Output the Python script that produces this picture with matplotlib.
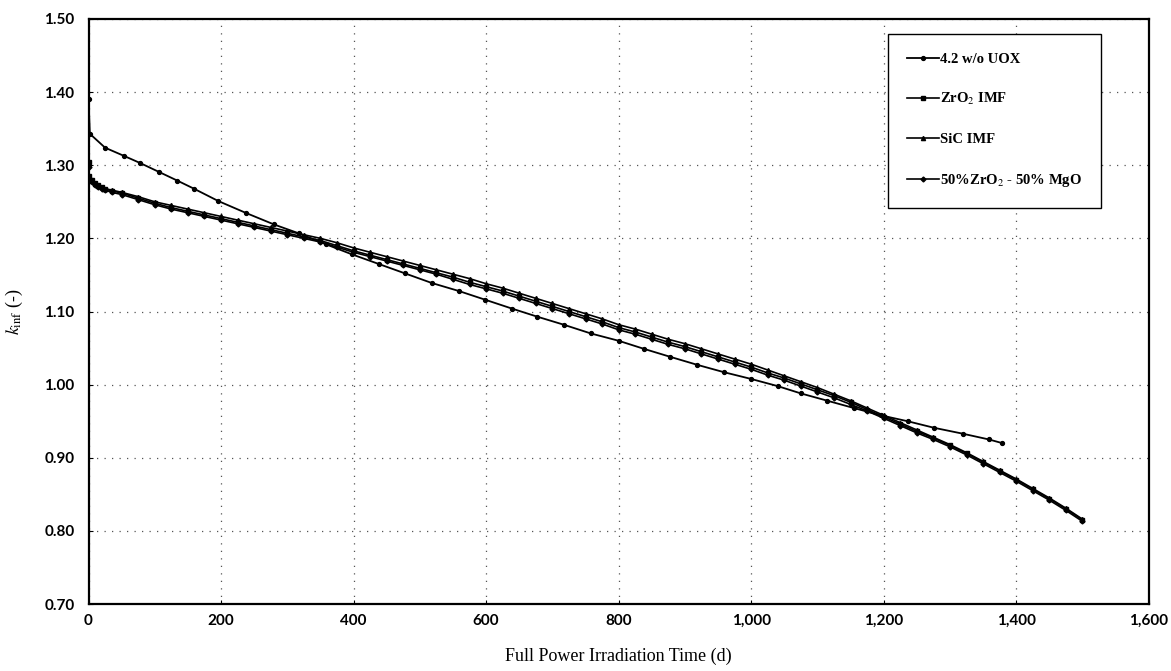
import matplotlib.pyplot as plt
from matplotlib.ticker import FuncFormatter, MultipleLocator

plt.rcParams["mathtext.fontset"] = "stix"

# burnup steps (days) shared by the three IMF cases
imf_days = [0, 1, 5, 10, 15, 20, 25, 35, 50] + list(range(75, 1501, 25))

k_zro2 = [1.305, 1.285, 1.280, 1.276, 1.273, 1.270, 1.268, 1.265, 1.262,
          1.255, 1.248, 1.242, 1.237, 1.232, 1.227, 1.222, 1.217, 1.212, 1.207,
          1.202, 1.197, 1.190, 1.183, 1.177, 1.171, 1.165, 1.159, 1.153, 1.147,
          1.140, 1.134, 1.128, 1.121, 1.114, 1.107, 1.100, 1.093, 1.086, 1.078,
          1.072, 1.065, 1.058, 1.052, 1.045, 1.038, 1.031, 1.024, 1.016, 1.009,
          1.001, 0.993, 0.985, 0.976, 0.966, 0.956, 0.946, 0.936, 0.927, 0.917,
          0.906, 0.894, 0.882, 0.870, 0.857, 0.844, 0.830, 0.815]

k_sic = [1.300, 1.283, 1.278, 1.275, 1.272, 1.270, 1.268, 1.266, 1.263,
         1.257, 1.250, 1.245, 1.240, 1.235, 1.230, 1.225, 1.220, 1.215, 1.210,
         1.205, 1.200, 1.194, 1.187, 1.181, 1.175, 1.169, 1.163, 1.157, 1.151,
         1.145, 1.138, 1.132, 1.125, 1.118, 1.111, 1.104, 1.097, 1.090, 1.082,
         1.076, 1.069, 1.062, 1.056, 1.049, 1.042, 1.035, 1.028, 1.020, 1.012,
         1.004, 0.996, 0.987, 0.978, 0.968, 0.958, 0.948, 0.938, 0.928, 0.918,
         0.907, 0.895, 0.883, 0.871, 0.858, 0.845, 0.831, 0.816]

k_mgo = [1.298, 1.282, 1.277, 1.273, 1.270, 1.268, 1.266, 1.263, 1.260,
         1.253, 1.246, 1.240, 1.235, 1.230, 1.225, 1.220, 1.215, 1.210, 1.205,
         1.200, 1.195, 1.188, 1.181, 1.175, 1.169, 1.163, 1.157, 1.151, 1.144,
         1.137, 1.131, 1.125, 1.118, 1.111, 1.104, 1.097, 1.090, 1.083, 1.075,
         1.069, 1.062, 1.055, 1.049, 1.042, 1.035, 1.028, 1.021, 1.013, 1.006,
         0.998, 0.990, 0.982, 0.973, 0.964, 0.954, 0.944, 0.934, 0.925, 0.915,
         0.904, 0.892, 0.880, 0.868, 0.855, 0.842, 0.828, 0.813]

uox_days = [0, 2, 25, 53, 78, 106, 134, 159, 196, 237, 280, 317, 358, 398,
            438, 478, 518, 559, 599, 639, 677, 717, 758, 800, 838, 878, 919,
            959, 999, 1040, 1075, 1115, 1155, 1196, 1236, 1276, 1319, 1359, 1379]
k_uox = [1.390, 1.343, 1.324, 1.313, 1.303, 1.291, 1.279, 1.268, 1.251, 1.235,
         1.219, 1.207, 1.192, 1.178, 1.165, 1.152, 1.139, 1.128, 1.116, 1.104,
         1.093, 1.082, 1.070, 1.060, 1.049, 1.038, 1.027, 1.017, 1.008, 0.998,
         0.988, 0.978, 0.968, 0.958, 0.950, 0.941, 0.933, 0.925, 0.920]

labels = ["4.2 w/o UOX", "ZrO$_2$ IMF", "SiC IMF", "50%ZrO$_2$ - 50% MgO"]

fig = plt.figure(figsize=(11.71, 6.71), dpi=100)
ax = fig.add_axes([0.0756, 0.0998, 0.9054, 0.8719])

serif = "Liberation Serif"

ax.plot(uox_days, k_uox, color="black", lw=1.3, marker="o", ms=2.8, label=labels[0])
ax.plot(imf_days, k_zro2, color="black", lw=1.2, marker="s", ms=3, label=labels[1])
ax.plot(imf_days, k_sic, color="black", lw=1.2, marker="^", ms=3, label=labels[2])
ax.plot(imf_days, k_mgo, color="black", lw=1.2, marker="D", ms=2.5, label=labels[3])

ax.set_xlim(0, 1600)
ax.set_ylim(0.70, 1.50)
ax.xaxis.set_major_locator(MultipleLocator(200))
ax.yaxis.set_major_locator(MultipleLocator(0.10))
ax.xaxis.set_major_formatter(FuncFormatter(lambda v, p: f"{int(v):,}"))
ax.yaxis.set_major_formatter(FuncFormatter(lambda v, p: f"{v:.2f}"))
ax.grid(True, color="#555555", linestyle=(0, (1, 5)), lw=0.9)
ax.tick_params(direction="in", length=3, width=0.8)
for lab in ax.get_xticklabels() + ax.get_yticklabels():
    lab.set_fontfamily("Lato")
    lab.set_fontweight("bold")
    lab.set_fontsize(11)
ax.tick_params(axis="x", pad=7)
ax.tick_params(axis="y", pad=10)
for s in ax.spines.values():
    s.set_linewidth(1.6)

ax.set_xlabel("Full Power Irradiation Time (d)", fontfamily=serif, fontsize=13, labelpad=14)
ax.set_ylabel(r"$k_{\rm inf}$ (-)", fontfamily=serif, fontsize=13, labelpad=14)

leg = ax.legend(loc="upper left", bbox_to_anchor=(0.754, 0.975), frameon=True,
                fancybox=False, edgecolor="black", framealpha=1,
                prop={"family": serif, "size": 10.5, "weight": "bold"},
                handlelength=2.2, handletextpad=0.1, labelspacing=1.75,
                borderpad=1.3, borderaxespad=0)
leg._legend_box.align = "left"
leg.get_frame().set_linewidth(1.0)

fig.savefig("out.png", dpi=100)
